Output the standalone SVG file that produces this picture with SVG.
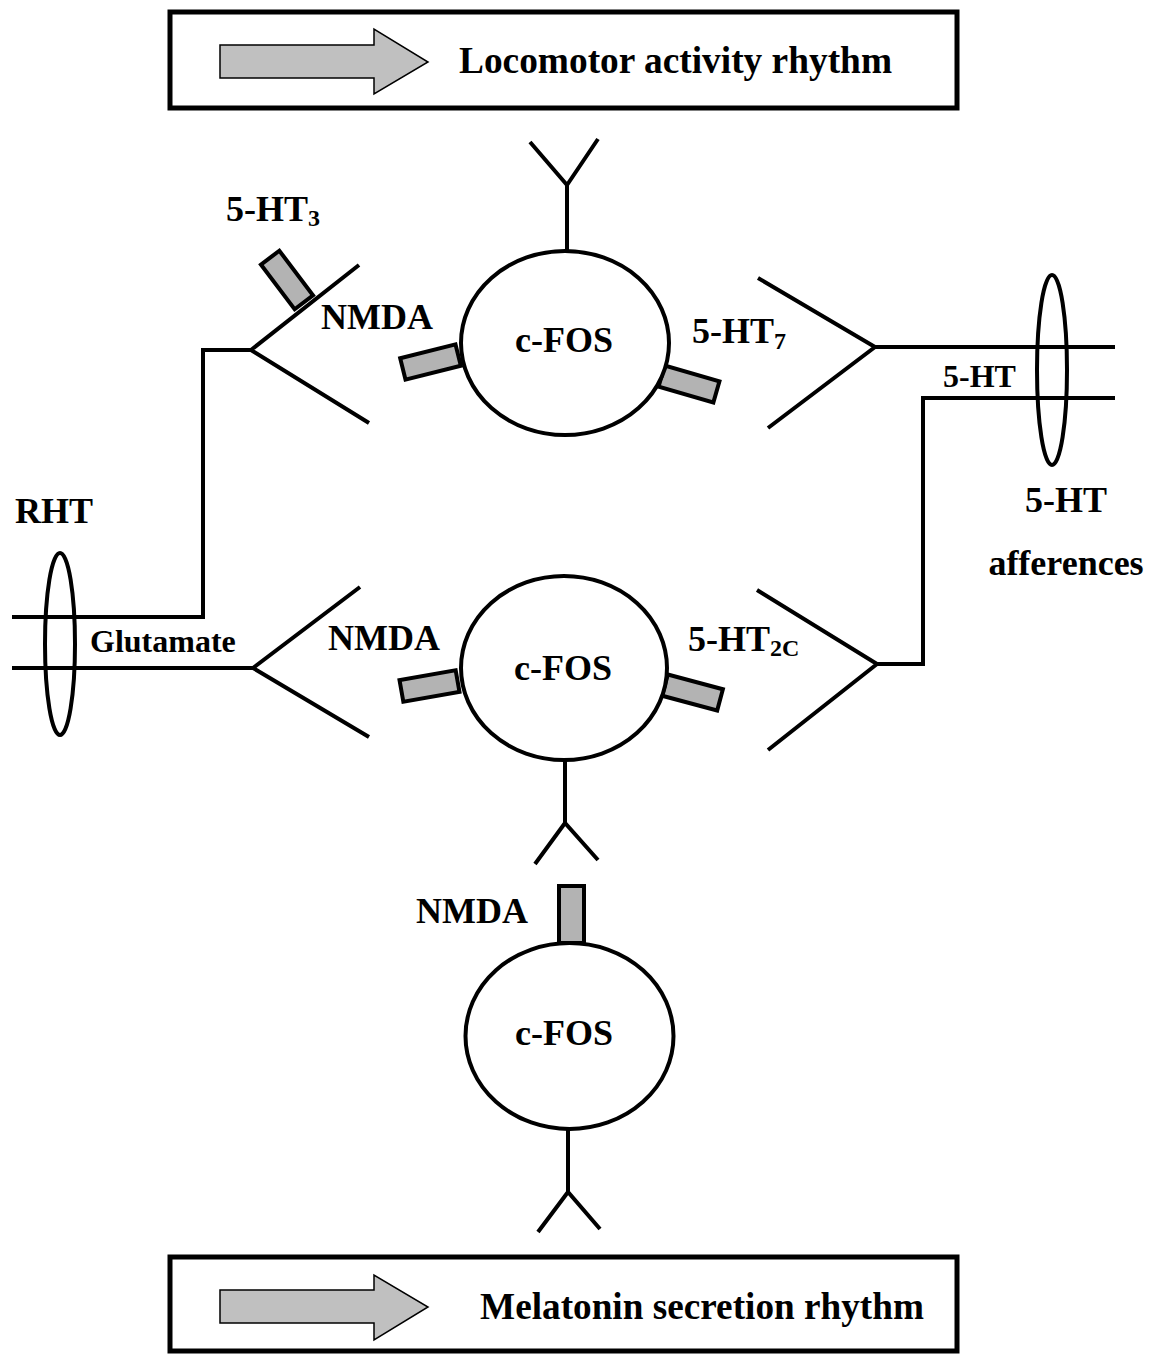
<svg xmlns="http://www.w3.org/2000/svg" width="1153" height="1358" viewBox="0 0 1153 1358">
<style>
.t{font-family:"Liberation Serif","Times New Roman",serif;font-weight:bold;fill:#000}
.l{fill:none;stroke:#000;stroke-width:4;stroke-linejoin:miter}
.cell{fill:#fff;stroke:#000;stroke-width:4}
.rec{fill:#b3b3b3;stroke:#000;stroke-width:4}
.box{fill:#fff;stroke:#000;stroke-width:5}
.arr{fill:#c0c0c0;stroke:#000;stroke-width:1.5}
.bund{fill:none;stroke:#000;stroke-width:4}
</style>
<rect x="0" y="0" width="1153" height="1358" fill="#fff"/>

<g id="locomotor-box">
<rect class="box" x="170" y="12" width="787" height="96"/>
<path class="arr" d="M220,45 H374 V29 L428,62 L374,94 V78 H220 Z"/>
<text class="t" x="459" y="73" font-size="38" textLength="433" lengthAdjust="spacingAndGlyphs">Locomotor activity rhythm</text>
</g>

<g id="melatonin-box">
<rect class="box" x="170" y="1257" width="787" height="94"/>
<path class="arr" d="M220,1290 H374 V1275 L428,1307 L374,1340 V1323 H220 Z"/>
<text class="t" x="480" y="1319" font-size="38" textLength="444" lengthAdjust="spacingAndGlyphs">Melatonin secretion rhythm</text>
</g>

<g id="connectors">
<path class="l" d="M359,265 L251,350 L369,423 M251,350 H203 V617 H12"/>
<path class="l" d="M360,587 L253,668 L369,737 M253,668 H12"/>
<path class="l" d="M758,278 L875,347 L768,428 M875,347 H1115"/>
<path class="l" d="M757,590 L877,664 L768,750 M877,664 H923 V398 H1115"/>
</g>

<g id="rht-bundle">
<ellipse class="bund" cx="60" cy="644" rx="15" ry="91"/>
<text class="t" x="15" y="523" font-size="36">RHT</text>
<text class="t" x="90" y="652" font-size="32">Glutamate</text>
</g>

<g id="ht-bundle">
<ellipse class="bund" cx="1052" cy="370" rx="15" ry="95"/>
<text class="t" x="943" y="387" font-size="32">5-HT</text>
<text class="t" x="1066" y="512" font-size="36" text-anchor="middle">5-HT</text>
<text class="t" x="1066" y="575" font-size="36" text-anchor="middle">afferences</text>
</g>

<g id="ht3-receptor">
<rect class="rec" x="-28" y="-11.5" width="56" height="23" transform="translate(287,280) rotate(53)"/>
<text class="t" x="226" y="221" font-size="36">5-HT<tspan font-size="24" dy="5">3</tspan></text>
</g>

<g id="cfos-top">
<path class="l" d="M567,253 V185 M530,142 L567,185 L598,139"/>
<rect class="rec" x="-28.5" y="-11" width="57" height="22" transform="translate(430.5,362) rotate(-14)"/>
<rect class="rec" x="-28.5" y="-11" width="57" height="22" transform="translate(689,384) rotate(16)"/>
<ellipse class="cell" cx="565" cy="343" rx="104" ry="92"/>
<text class="t" x="564" y="352" font-size="36" text-anchor="middle">c-FOS</text>
<text class="t" x="321" y="329" font-size="36">NMDA</text>
<text class="t" x="692" y="343" font-size="36">5-HT<tspan font-size="24" dy="6">7</tspan></text>
</g>

<g id="cfos-middle">
<path class="l" d="M565,758 V823 M535,864 L565,823 L598,860"/>
<rect class="rec" x="-28.5" y="-11" width="57" height="22" transform="translate(429.5,686) rotate(-10)"/>
<rect class="rec" x="-28.5" y="-11" width="57" height="22" transform="translate(692.5,692.5) rotate(15)"/>
<ellipse class="cell" cx="564" cy="668" rx="103" ry="92"/>
<text class="t" x="563" y="680" font-size="36" text-anchor="middle">c-FOS</text>
<text class="t" x="328" y="650" font-size="36">NMDA</text>
<text class="t" x="688" y="651" font-size="36">5-HT<tspan font-size="24" dy="5">2C</tspan></text>
</g>

<g id="cfos-bottom">
<rect class="rec" x="559" y="886" width="25" height="57"/>
<path class="l" d="M568,1128 V1192 M538,1232 L568,1192 L600,1229"/>
<ellipse class="cell" cx="569.5" cy="1036" rx="104" ry="93"/>
<text class="t" x="564" y="1045" font-size="36" text-anchor="middle">c-FOS</text>
<text class="t" x="416" y="923" font-size="36">NMDA</text>
</g>
</svg>
